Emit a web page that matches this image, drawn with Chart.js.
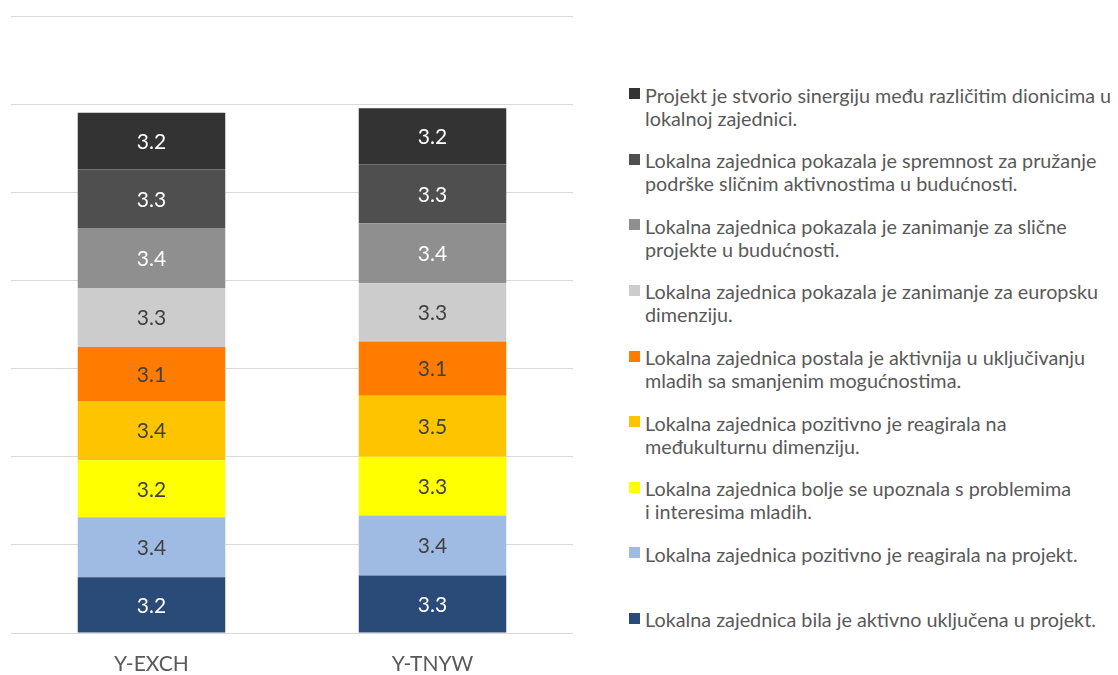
<!DOCTYPE html>
<html>
<head>
<meta charset="utf-8">
<script src="https://cdn.jsdelivr.net/npm/chart.js@4.4.1/dist/chart.umd.min.js"></script>
<style>
    html, body { margin: 0; padding: 0; background: #fff; }
    #wrap { position: relative; width: 1118px; height: 675px; overflow: hidden; }
    #chartBox { position: absolute; left: 0; top: 0; width: 600px; height: 675px; }
    #legend { position: absolute; left: 629px; top: 0; font-family: Lato, sans-serif; font-size: 19.8px; color: #595959; }
    #legend .box { position: absolute; left: 0; width: 11px; height: 11px; }
    #legend .txt { position: absolute; left: 16px; white-space: pre; line-height: 23px; }
</style>
</head>
<body>
<div id="wrap">
    <div id="chartBox"><canvas id="stackChart"></canvas></div>
    <div id="legend"></div>
</div>
<script>
// kategorije (stupci)
const categories = ['Y-EXCH', 'Y-TNYW'];

// vrijednosti po seriji, od dna stupca prema vrhu
const activeInvolvement  = [3.16, 3.26];
const positiveReaction   = [3.40, 3.40];
const youthIssues        = [3.24, 3.34];
const interculturalDim   = [3.36, 3.46];
const fewerOpportunities = [3.07, 3.07];
const europeanDim        = [3.34, 3.31];
const similarProjects    = [3.40, 3.40];
const futureSupport      = [3.32, 3.34];
const synergy            = [3.22, 3.18];

// nazivi serija (legenda), isti redoslijed
const seriesNames = [
    'Lokalna zajednica bila je aktivno uključena u projekt.',
    'Lokalna zajednica pozitivno je reagirala na projekt.',
    'Lokalna zajednica bolje se upoznala s problemima\ni interesima mladih.',
    'Lokalna zajednica pozitivno je reagirala na\nmeđukulturnu dimenziju.',
    'Lokalna zajednica postala je aktivnija u uključivanju\nmladih sa smanjenim mogućnostima.',
    'Lokalna zajednica pokazala je zanimanje za europsku\ndimenziju.',
    'Lokalna zajednica pokazala je zanimanje za slične\nprojekte u budućnosti.',
    'Lokalna zajednica pokazala je spremnost za pružanje\npodrške sličnim aktivnostima u budućnosti.',
    'Projekt je stvorio sinergiju među različitim dionicima u\nlokalnoj zajednici.'
];
const seriesValues = [activeInvolvement, positiveReaction, youthIssues, interculturalDim,
    fewerOpportunities, europeanDim, similarProjects, futureSupport, synergy];

// os y (bez oznaka)
const yMax = 35;
const yStep = 5;

// boje
const barColors = ['#2a4a78', '#9fbbe3', '#ffff00', '#ffc400', '#ff7c00', '#cccccc', '#8f8f8f', '#4f4f4f', '#333333'];
const labelColors = ['#ffffff', '#404040', '#404040', '#404040', '#404040', '#404040', '#ffffff', '#ffffff', '#ffffff'];

// oznake vrijednosti u sredini svakog segmenta
const barValueLabels = {
    id: 'barValueLabels',
    afterDatasetsDraw(chart) {
        const ctx = chart.ctx;
        ctx.save();
        ctx.font = '21px Lato';
        ctx.textAlign = 'center';
        ctx.textBaseline = 'middle';
        chart.data.datasets.forEach(function(ds, i) {
            chart.getDatasetMeta(i).data.forEach(function(bar, j) {
                const p = bar.getProps(['x', 'y', 'base'], true);
                ctx.fillStyle = labelColors[i];
                ctx.fillText(ds.data[j].toFixed(1), p.x, (p.y + p.base) / 2 + 1);
            });
        });
        ctx.restore();
    }
};

var ctx = document.getElementById('stackChart').getContext('2d');
var stackChart = new Chart(ctx, {
    type: 'bar',
    data: {
        labels: categories,
        datasets: seriesValues.map(function(vals, i) {
            return {
                label: seriesNames[i].replace('\n', ' '),
                data: vals,
                backgroundColor: barColors[i],
                borderWidth: 0,
                barPercentage: 0.525,
                categoryPercentage: 1
            };
        })
    },
    options: {
        responsive: true,
        maintainAspectRatio: false,
        animation: false,
        layout: { padding: { left: 11, right: 27, top: 16, bottom: 0 } },
        scales: {
            x: {
                stacked: true,
                grid: { display: false, drawTicks: false },
                border: { display: false },
                ticks: { color: '#595959', font: { family: 'Lato', size: 21 }, padding: 19 },
                afterFit: function(scale) { scale.height = 42; }
            },
            y: {
                stacked: true,
                min: 0,
                max: yMax,
                ticks: { display: false, stepSize: yStep },
                grid: { color: '#d9d9d9', lineWidth: 1, drawTicks: false },
                border: { display: false }
            }
        },
        plugins: {
            legend: { display: false },
            tooltip: { enabled: false }
        }
    },
    plugins: [barValueLabels]
});

// legenda (HTML), serije od vrha prema dnu
var legendEl = document.getElementById('legend');
var legendTop = 88.2;
var legendStep = 65.6;
stackChart.data.datasets.slice().reverse().forEach(function(ds, k) {
    var i = stackChart.data.datasets.length - 1 - k;
    var y = legendTop + k * legendStep;
    var box = document.createElement('div');
    box.className = 'box';
    box.style.top = y + 'px';
    box.style.background = ds.backgroundColor;
    var txt = document.createElement('div');
    txt.className = 'txt';
    txt.style.top = (y + 5.5 + 1.3 - 11.5) + 'px';
    txt.textContent = seriesNames[i];
    legendEl.appendChild(box);
    legendEl.appendChild(txt);
});
</script>
</body>
</html>
